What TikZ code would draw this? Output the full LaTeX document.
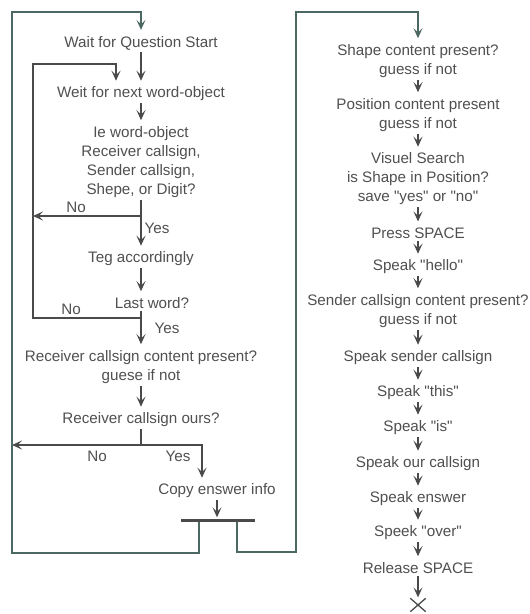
\documentclass[tikz,border=0pt]{standalone}
\usepackage{fontspec}
\setmainfont{Liberation Sans}
\newfontfamily\plainsans{Liberation Sans}
\usetikzlibrary{arrows.meta,shapes.misc}
\definecolor{tc}{HTML}{505050}
\definecolor{lc}{HTML}{4A4A4A}
\definecolor{gc}{HTML}{4C6862}
\newcommand{\dq}{\symbol{34}}
\tikzset{
  txt/.style={align=center,font=\plainsans\fontsize{15.2}{19}\selectfont,text=tc,inner sep=2pt},
  ln/.style={draw=lc,line width=1.2pt},
  arr/.style={ln,-{Stealth[length=10pt,width=9pt,inset=4.5pt]},shorten >=4pt},
  garr/.style={arr,draw=gc},
}
\begin{document}
\begin{tikzpicture}[x=1pt,y=-1pt]
\useasboundingbox[fill=white] (0,0) rectangle (530,614);
% left column
\node[txt] (q1) at (141,43) {Wait for Question Start};
\node[txt] (q2) at (141,94) {Weit for next word-object};
\node[txt] (q3) at (141,162) {Ie word-object\\Receiver callsign,\\Sender callsign,\\Shepe, or Digit?};
\node[txt] (q4) at (141,259) {Teg accordingly};
\node[txt] (q5) at (152,303) {Last word?};
\node[txt] (q6) at (141,367) {Receiver callsign content present?\\guese if not};
\node[txt] (q7) at (141,420) {Receiver callsign ours?};
\node[txt] (q8) at (217,491) {Copy enswer info};
\node[fill=lc,minimum width=74pt,minimum height=3pt,inner sep=0pt] (bar) at (218,520) {};
% labels
\node[txt] (n1) at (76,207) {No};
\node[txt] (y1) at (157,228) {Yes};
\node[txt] (n2) at (71,309) {No};
\node[txt] (y2) at (167,328) {Yes};
\node[txt] (n3) at (97,456) {No};
\node[txt] (y3) at (178,456) {Yes};
% coordinates
\coordinate (j3) at (141,216);
\coordinate (L3) at (33,216);
\coordinate (j5) at (141,318);
\coordinate (k5) at (33,318);
\coordinate (il) at (33,64);
\coordinate (ir) at (116,64);
\coordinate (j7) at (141,445);
\coordinate (o7) at (12,445);
\coordinate (y7) at (202,445);
\coordinate (c1) at (199,553);
\coordinate (c1b) at (12,553);
\coordinate (c1c) at (12,12);
\coordinate (c1d) at (141,12);
\coordinate (c2) at (237,552);
\coordinate (c2b) at (296,552);
\coordinate (c2c) at (296,12);
\coordinate (c2d) at (418,12);
% right column
\node[txt] (r1) at (418,61) {Shape content present?\\guess if not};
\node[txt] (r2) at (418,115) {Position content present\\guess if not};
\node[txt] (r3) at (418,179) {Visuel Search\\is Shape in Position?\\save \dq yes\dq{} or \dq no\dq};
\node[txt] (r4) at (418,233) {Press SPACE};
\node[txt] (r5) at (418,267) {Speak \dq hello\dq};
\node[txt] (r6) at (418,311) {Sender callsign content present?\\guess if not};
\node[txt] (r7) at (418,358) {Speak sender callsign};
\node[txt] (r8) at (418,393) {Speak \dq this\dq};
\node[txt] (r9) at (418,428) {Speak \dq is\dq};
\node[txt] (r10) at (418,464) {Speak our callsign};
\node[txt] (r11) at (418,499) {Speak enswer};
\node[txt] (r12) at (418,533) {Speek \dq over\dq};
\node[txt] (r13) at (418,568) {Release SPACE};
\node[cross out,draw=lc,line width=1.3pt,minimum width=14pt,minimum height=12pt,inner sep=0pt] (xend) at (418,605) {};
% left connectors
\draw[arr] (q1) -- (q2);
\draw[arr] (q2) -- (q3);
\draw[ln] (q3.south) -- (j3);
\draw[arr,shorten >=0pt] (j3) -- (L3);
\draw[arr] (j3) -- (j3 |- q4.north);
\draw[arr] (q4) -- (q4 |- q5.north);
\draw[arr] (q5.south -| j5) -- (j5) -- (k5) -- (il) -- (ir) -- (ir |- q2.north);
\draw[arr] (j5) -- (j5 |- q6.north);
\draw[arr] (q6) -- (q7);
\draw[ln] (q7.south) -- (j7);
\draw[arr,shorten >=0pt] (j7) -- (o7);
\draw[arr] (j7) -- (y7) -- (y7 |- q8.north);
\draw[arr,shorten >=1pt] (q8.south) -- (q8.south |- bar.north);
\draw[garr] (bar.south -| c1) -- (c1) -- (c1b) -- (c1c) -- (c1d) -- (q1.north);
\draw[garr] (bar.south -| c2) -- (c2) -- (c2b) -- (c2c) -- (c2d) -- (r1.north);
% right connectors
\foreach \a/\b in {r1/r2,r2/r3,r3/r4,r4/r5,r5/r6,r6/r7,r7/r8,r8/r9,r9/r10,r10/r11,r11/r12,r12/r13}
  \draw[arr] (\a) -- (\b);
\draw[arr,shorten >=1pt] (r13) -- (xend);
\end{tikzpicture}
\end{document}
